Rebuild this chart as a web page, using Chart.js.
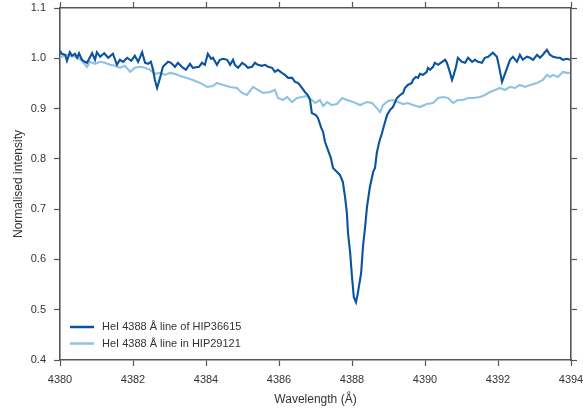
<!DOCTYPE html>
<html>
<head>
<meta charset="utf-8">
<script src="https://cdn.jsdelivr.net/npm/chart.js@4/dist/chart.umd.min.js"></script>
<style>
  html, body { margin: 0; padding: 0; background: #fff; }
  #wrap { position: relative; width: 583px; height: 412px; }
</style>
</head>
<body>
<div id="wrap"><canvas id="c" width="583" height="412"></canvas></div>
<script>
// ---- data ----
const seriesNames = ['HeI 4388 Å line of HIP36615', 'HeI 4388 Å line in HIP29121'];

const wavelengthA = [
  4380.00,4380.05,4380.14,4380.19,4380.27,4380.33,4380.41,4380.47,4380.52,4380.60,4380.68,4380.74,4380.88,4380.96,
  4381.01,4381.10,4381.21,4381.32,4381.45,4381.56,4381.64,4381.73,4381.84,4381.95,4382.05,4382.14,4382.25,4382.33,
  4382.41,4382.49,4382.55,4382.60,4382.66,4382.74,4382.82,4382.96,4383.04,4383.15,4383.23,4383.34,4383.45,4383.56,
  4383.64,4383.81,4383.89,4383.97,4384.05,4384.14,4384.19,4384.30,4384.38,4384.47,4384.58,4384.66,4384.74,4384.79,
  4384.88,4384.99,4385.07,4385.15,4385.26,4385.34,4385.42,4385.53,4385.62,4385.70,4385.81,4385.89,4385.97,4386.08,
  4386.16,4386.25,4386.36,4386.44,4386.52,4386.63,4386.71,4386.79,4386.85,4386.90,4387.01,4387.07,4387.15,4387.21,
  4387.26,4387.34,4387.42,4387.48,4387.59,4387.67,4387.75,4387.81,4387.86,4387.89,4387.95,4388.00,4388.05,4388.11,
  4388.16,4388.25,4388.30,4388.36,4388.41,4388.49,4388.58,4388.63,4388.68,4388.74,4388.82,4388.88,4388.96,4389.04,
  4389.12,4389.23,4389.32,4389.40,4389.45,4389.53,4389.64,4389.67,4389.75,4389.81,4389.86,4389.95,4390.05,4390.08,
  4390.14,4390.22,4390.27,4390.36,4390.47,4390.55,4390.60,4390.68,4390.74,4390.77,4390.85,4390.90,4391.01,4391.10,
  4391.18,4391.29,4391.37,4391.45,4391.56,4391.64,4391.73,4391.86,4391.97,4392.03,4392.11,4392.16,4392.25,4392.33,
  4392.41,4392.52,4392.60,4392.68,4392.79,4392.88,4392.96,4393.07,4393.15,4393.23,4393.34,4393.42,4393.51,4393.62,
  4393.70,4393.78,4393.89,4393.97
];
const intensityA = [
  1.015,1.009,1.007,0.995,1.012,1.005,1.009,1.001,1.010,0.997,0.993,0.991,1.010,0.997,
  1.012,1.003,1.010,1.001,1.009,0.987,0.997,0.993,1.001,0.995,1.005,0.993,1.012,0.991,
  0.989,0.993,0.977,0.957,0.941,0.961,0.983,0.993,0.991,0.983,0.991,0.983,0.977,0.989,
  0.981,0.983,0.991,0.987,1.009,0.999,1.001,0.987,0.997,0.999,0.997,0.987,0.997,0.987,
  0.981,0.991,0.987,0.981,0.983,0.991,0.987,0.985,0.987,0.983,0.981,0.973,0.977,0.971,
  0.967,0.961,0.961,0.953,0.951,0.941,0.933,0.927,0.917,0.891,0.887,0.881,0.863,0.853,
  0.834,0.818,0.802,0.782,0.774,0.768,0.754,0.724,0.692,0.653,0.613,0.565,0.525,0.515,
  0.533,0.573,0.625,0.665,0.704,0.744,0.774,0.782,0.812,0.832,0.851,0.867,0.887,0.897,
  0.903,0.921,0.927,0.931,0.941,0.947,0.951,0.957,0.963,0.961,0.969,0.967,0.973,0.981,
  0.977,0.983,0.991,0.987,0.993,0.997,0.991,0.973,0.957,0.963,0.983,1.001,0.993,0.991,
  1.001,0.993,0.997,0.993,0.991,1.001,1.003,1.011,1.003,0.983,0.953,0.963,0.981,0.997,
  1.003,0.993,1.007,0.997,1.003,1.001,0.997,1.007,1.001,1.007,1.017,1.007,1.003,1.001,
  1.001,0.997,0.999,0.997
];

const wavelengthB = [
  4380.00,4380.14,4380.27,4380.41,4380.55,4380.74,4380.82,4380.96,4381.10,4381.23,4381.37,4381.51,4381.64,4381.78,
  4381.92,4382.05,4382.19,4382.33,4382.47,4382.60,4382.74,4382.88,4383.01,4383.15,4383.29,4383.48,4383.64,4383.84,
  4384.03,4384.19,4384.30,4384.47,4384.66,4384.85,4384.99,4385.12,4385.29,4385.42,4385.56,4385.75,4385.89,4385.97,
  4386.11,4386.22,4386.36,4386.49,4386.63,4386.77,4386.90,4386.99,4387.12,4387.21,4387.32,4387.45,4387.59,4387.73,
  4387.86,4388.03,4388.22,4388.41,4388.55,4388.68,4388.77,4388.85,4388.99,4389.12,4389.26,4389.40,4389.53,4389.67,
  4389.86,4390.05,4390.22,4390.36,4390.49,4390.63,4390.77,4390.90,4391.04,4391.18,4391.32,4391.51,4391.64,4391.78,
  4391.92,4392.05,4392.19,4392.33,4392.47,4392.60,4392.74,4392.88,4393.07,4393.23,4393.34,4393.42,4393.51,4393.64,
  4393.78,4393.89,4393.97
];
const intensityB = [
  1.001,1.007,1.005,1.003,0.999,0.983,0.993,0.989,0.993,0.991,0.987,0.985,0.981,0.985,
  0.973,0.981,0.983,0.981,0.977,0.969,0.971,0.967,0.971,0.969,0.965,0.961,0.957,0.951,
  0.943,0.945,0.951,0.947,0.943,0.941,0.931,0.927,0.943,0.937,0.931,0.933,0.937,0.921,
  0.917,0.923,0.913,0.921,0.923,0.925,0.917,0.911,0.917,0.905,0.913,0.907,0.909,0.921,
  0.917,0.913,0.907,0.913,0.911,0.901,0.893,0.907,0.915,0.917,0.913,0.909,0.911,0.907,
  0.903,0.909,0.911,0.921,0.923,0.921,0.911,0.917,0.917,0.921,0.921,0.923,0.927,0.933,
  0.937,0.941,0.937,0.943,0.941,0.947,0.943,0.947,0.951,0.957,0.967,0.963,0.967,0.963,
  0.973,0.971,0.971
];

const xTickLabels = ['4380','4382','4384','4386','4388','4390','4392','4394'];
const yTickLabels = ['0.4','0.5','0.6','0.7','0.8','0.9','1.0','1.1'];
const xTitle = 'Wavelength (Å)';
const yTitle = 'Normalised intensity';

// ---- chart ----
const FONT = 'Liberation Sans, Arial, sans-serif';
const AXIS_COLOR = '#555555';
const TEXT_COLOR = '#333333';
const colors = ['#0b539e', '#8fc2e3'];

function pts(xs, ys) { return xs.map((x, i) => ({ x: x, y: ys[i] })); }

const xMin = Number(xTickLabels[0]), xMax = Number(xTickLabels[xTickLabels.length - 1]);
const yMin = Number(yTickLabels[0]), yMax = Number(yTickLabels[yTickLabels.length - 1]);

function xLabel(v) {
  const i = xTickLabels.findIndex(t => Math.abs(Number(t) - v) < 1e-6);
  return i >= 0 ? xTickLabels[i] : '';
}
function yLabel(v) {
  const i = yTickLabels.findIndex(t => Math.abs(Number(t) - v) < 1e-6);
  return i >= 0 ? yTickLabels[i] : '';
}

const gridCommon = {
  drawOnChartArea: false,
  drawTicks: true,
  tickLength: 6,
  tickWidth: 1.2,
  color: AXIS_COLOR
};
const borderCommon = { display: true, color: AXIS_COLOR, width: 1.6 };

function fixSize(prop, val) {
  return function (s) {
    s[prop] = val;
    s.paddingLeft = 0; s.paddingRight = 0; s.paddingTop = 0; s.paddingBottom = 0;
  };
}

const legendPlugin = {
  id: 'insideLegend',
  afterDatasetsDraw(chart) {
    const ctx = chart.ctx;
    const ca = chart.chartArea;
    ctx.save();
    ctx.font = '11px ' + FONT;
    ctx.textBaseline = 'middle';
    ctx.textAlign = 'left';
    chart.data.datasets.forEach((ds, i) => {
      const y = ca.bottom - 33 + i * 16.5;
      ctx.strokeStyle = ds.borderColor;
      ctx.lineWidth = 2.5;
      ctx.beginPath();
      ctx.moveTo(ca.left + 10, y);
      ctx.lineTo(ca.left + 34, y);
      ctx.stroke();
      ctx.fillStyle = TEXT_COLOR;
      ctx.fillText(ds.label, ca.left + 42, y);
    });
    ctx.restore();
  }
};

new Chart(document.getElementById('c'), {
  type: 'scatter',
  data: {
    datasets: [
      { label: seriesNames[0], data: pts(wavelengthA, intensityA), showLine: true,
        borderColor: colors[0], backgroundColor: colors[0], borderWidth: 2.1,
        pointRadius: 0, tension: 0 },
      { label: seriesNames[1], data: pts(wavelengthB, intensityB), showLine: true,
        borderColor: colors[1], backgroundColor: colors[1], borderWidth: 2.1,
        pointRadius: 0, tension: 0 }
    ]
  },
  options: {
    responsive: false,
    animation: false,
    devicePixelRatio: 1,
    layout: { padding: 0 },
    plugins: { legend: { display: false }, tooltip: { enabled: false } },
    scales: {
      x: {
        type: 'linear', position: 'bottom', min: xMin, max: xMax,
        ticks: { stepSize: 2, callback: xLabel, color: TEXT_COLOR, font: { family: FONT, size: 11 }, padding: 7, maxRotation: 0 },
        grid: gridCommon, border: borderCommon,
        title: { display: true, text: xTitle, color: TEXT_COLOR, font: { family: FONT, size: 12 }, padding: { top: 0, bottom: 5 } },
        afterFit: fixSize('height', 52)
      },
      x2: {
        type: 'linear', position: 'top', min: xMin, max: xMax,
        ticks: { stepSize: 2, display: false },
        grid: gridCommon, border: borderCommon,
        afterFit: fixSize('height', 8)
      },
      y: {
        type: 'linear', position: 'left', min: yMin, max: yMax,
        ticks: { stepSize: 0.1, callback: yLabel, color: TEXT_COLOR, font: { family: FONT, size: 11 }, padding: 8 },
        grid: gridCommon, border: borderCommon,
        title: { display: true, text: yTitle, color: TEXT_COLOR, font: { family: FONT, size: 12 }, padding: { top: 11, bottom: 0 } },
        afterFit: fixSize('width', 60)
      },
      y2: {
        type: 'linear', position: 'right', min: yMin, max: yMax,
        ticks: { stepSize: 0.1, display: false },
        grid: gridCommon, border: borderCommon,
        afterFit: fixSize('width', 12)
      }
    }
  },
  plugins: [legendPlugin]
});
</script>
</body>
</html>
